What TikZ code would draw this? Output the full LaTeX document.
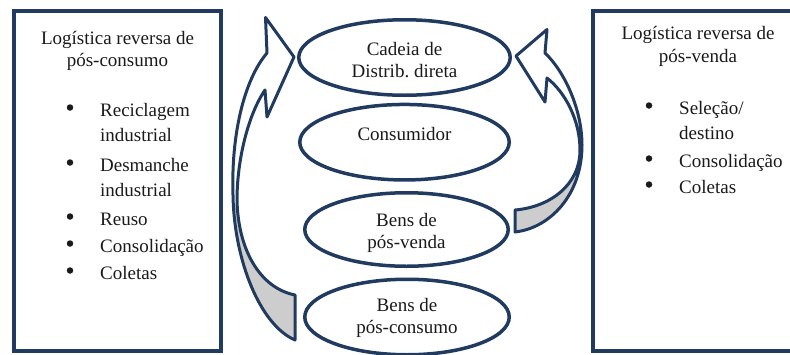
\documentclass[tikz,border=0pt]{standalone}
\usepackage{fontspec}
\setmainfont{Liberation Serif}
\usetikzlibrary{shapes.geometric}
\definecolor{navy}{HTML}{203A60}
\definecolor{ribbon}{HTML}{CDCDCD}
\definecolor{ink}{HTML}{1A1A1A}
% contornos das setas curvas
\newcommand{\setaesq}{(265.5,17.5) -- (294,57) -- (267,117) -- (265,90)
   .. controls (248,115) and (237,160) .. (237,200)
   .. controls (238,250) and (260,288) .. (295,295)
   -- (295,340)
   .. controls (260,325) and (234,260) .. (233,195)
   .. controls (231,135) and (244,80) .. (267,53) -- cycle}
\newcommand{\setadir}{(547,29.5) -- (516,56) -- (545,102) -- (547,78)
   .. controls (565,92) and (580,120) .. (580,150)
   .. controls (580,185) and (550,207) .. (515,210)
   -- (515,232)
   .. controls (550,228) and (582,195) .. (582,145)
   .. controls (582,110) and (565,72) .. (545,53) -- cycle}
\begin{document}
\begin{tikzpicture}[
	x=1pt, y=-1pt,
	font=\fontsize{19}{22.5}\selectfont,
	text=ink
]
\tikzset{
    boxn/.style = {rectangle, draw=navy, line width=4pt, inner sep=0pt},
    elip/.style = {ellipse, draw=navy, line width=3.5pt, fill=white, inner sep=0pt, minimum height=75.5pt},
    titl/.style = {anchor=base, align=center, inner sep=0pt},
    elit/.style = {anchor=base, align=center, inner sep=0pt, font=\fontsize{19}{22}\selectfont},
    itemn/.style = {anchor=base west, align=left, inner sep=0pt, font=\fontsize{19}{25.5}\selectfont},
    bull/.style = {circle, fill=ink, inner sep=0pt, minimum size=6.5pt},
    arrw/.style = {draw=navy, line width=3pt, line join=round, fill=white},
}
\useasboundingbox (0,0) rectangle (790,354);
%
\node[boxn, minimum width=206.5pt, minimum height=339.5pt] at (117.25,180.75) (posconsumo) {};
\node[boxn, minimum width=207pt, minimum height=339.5pt] at (696.5,180.75) (posvenda) {};
%
\node[titl] at (117.5,66.7) (tituloesq) {Logística reversa de\\pós-consumo};
\node[titl] at (698,62.3) (titulodir) {Logística reversa de\\pós-venda};
%
\foreach \yy/\yb/\txt [count=\i] in {116/141.5/{Reciclagem\\industrial}, 171/196.5/{Desmanche\\industrial}, 225/225/Reuso, 252/252/Consolidação, 279/279/Coletas}{
  \node[bull] at (70,\yy-8.5) (be\i) {};
  \node[itemn] at (100,\yb) (ie\i) {\txt};
}
\foreach \yy/\yb/\txt [count=\i] in {114/139.5/{Seleção/\\destino}, 167/167/Consolidação, 193/193/Coletas}{
  \node[bull] at (649,\yy-8.5) (bd\i) {};
  \node[itemn] at (679,\yb) (id\i) {\txt};
}
%
\draw[arrw, path picture={\fill[ribbon] (200,205) rectangle (320,354);}] \setaesq;
\draw[arrw, path picture={\fill[ribbon] (500,152) rectangle (600,260);}] \setadir;
%
\node[elip, minimum width=211.5pt] at (404.5,57.5) (cadeia) {};
\node[elip, minimum width=209.5pt] at (404.5,142.2) (consumidor) {};
\node[elip, minimum width=203.5pt, minimum height=73.5pt] at (406.5,229.5) (benspv) {};
\node[elip, minimum width=204.5pt] at (407,317) (benspc) {};
%
\node[elit] at (404.5,77.3) (cadeiatxt) {Cadeia de\\Distrib.\ direta};
\node[elit] at (404.5,140) (consumidortxt) {Consumidor};
\node[elit] at (406.5,248.3) (benspvtxt) {Bens de\\pós-venda};
\node[elit] at (407,333.3) (benspctxt) {Bens de\\pós-consumo};
\end{tikzpicture}
\end{document}
